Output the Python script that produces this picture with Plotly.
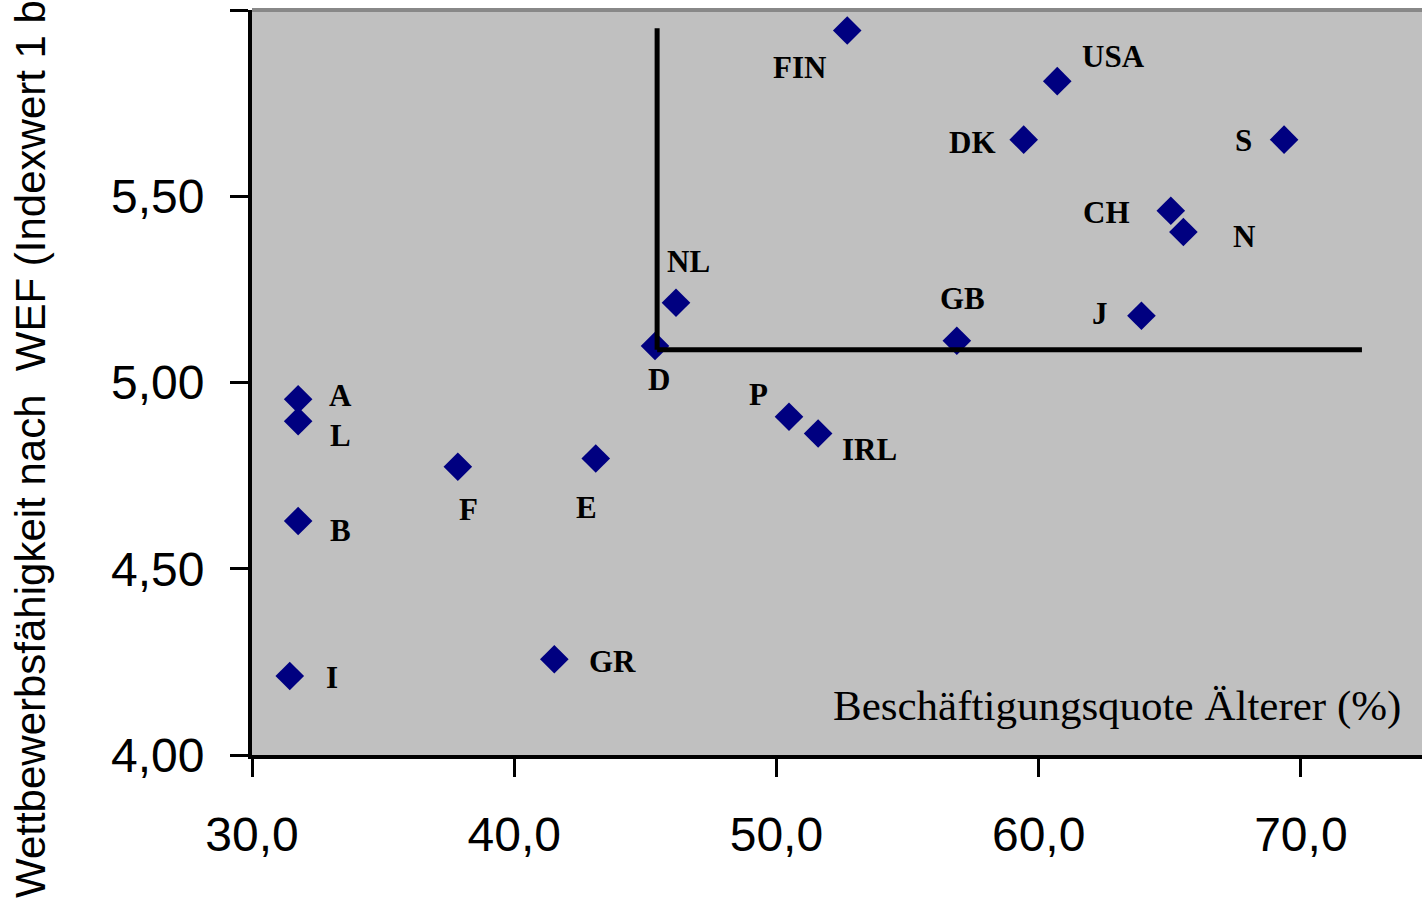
import plotly.graph_objects as go

# ---- data ----
countries = ["FIN", "USA", "DK", "S", "CH", "N", "NL", "D", "GB", "J",
             "A", "L", "B", "I", "F", "E", "P", "IRL", "GR"]
employment_older = [52.70, 60.71, 59.43, 69.36, 65.04, 65.52, 46.17, 45.37, 56.88, 63.92,
                    31.76, 31.76, 31.76, 31.44, 37.85, 43.11, 50.48, 51.59, 41.53]
competitiveness = [5.945, 5.809, 5.652, 5.652, 5.461, 5.404, 5.214, 5.098, 5.112, 5.179,
                   4.955, 4.896, 4.628, 4.212, 4.774, 4.796, 4.908, 4.863, 4.257]

# threshold lines (vertical and horizontal)
vline_x = [45.45, 45.45]
vline_y = [5.951, 5.088]
hline_x = [45.45, 72.33]
hline_y = [5.088, 5.088]

x_tickvals = [30, 40, 50, 60, 70]
x_ticktext = ["30,0", "40,0", "50,0", "60,0", "70,0"]
y_tickvals = [4.0, 4.5, 5.0, 5.5, 6.0]
y_ticktext = ["4,00", "4,50", "5,00", "5,50", ""]

x_title = "Beschäftigungsquote Älterer (%)"
y_title = "Wettbewerbsfähigkeit nach  WEF (Indexwert 1 bis 7)"

# ---- label offsets (style, in pixels: dx right, dy down) ----
label_offsets = {
    "FIN": (-48, 37), "USA": (56, -25), "DK": (-51, 3), "S": (-41, 1),
    "CH": (-64, 2), "N": (61, 4), "NL": (12, -41), "D": (4, 33),
    "GB": (6, -42), "J": (-41, -2), "A": (42, -4), "L": (42, 14),
    "B": (42, 9), "I": (42, 1), "F": (11, 43), "E": (-9, 49),
    "P": (-31, -22), "IRL": (51, 16), "GR": (58, 2),
}

W, H = 1422, 899
ML, MR, MT, MB = 252, 0, 10, 144

fig = go.Figure()

fig.add_trace(go.Scatter(
    x=employment_older, y=competitiveness, mode="markers",
    marker=dict(symbol="diamond", size=22, color="#000080",
                line=dict(width=0)),
    showlegend=False, hoverinfo="skip", cliponaxis=False,
))

fig.add_trace(go.Scatter(
    x=vline_x, y=vline_y, mode="lines",
    line=dict(color="black", width=5), showlegend=False, hoverinfo="skip",
))
fig.add_trace(go.Scatter(
    x=hline_x, y=hline_y, mode="lines",
    line=dict(color="black", width=5), showlegend=False, hoverinfo="skip",
))

annotations = []
for c, xv, yv in zip(countries, employment_older, competitiveness):
    dx, dy = label_offsets[c]
    annotations.append(dict(
        x=xv, y=yv, xref="x", yref="y", text="<b>" + c + "</b>", showarrow=False,
        xshift=dx, yshift=-dy, xanchor="center", yanchor="middle",
        font=dict(family="Liberation Serif", size=31, color="black"),
    ))

plot_w = W - ML - MR
plot_h = H - MT - MB

# x-axis title inside plot area (bottom right)
annotations.append(dict(
    x=(1403 - ML) / plot_w, y=(755 - 706) / plot_h, xref="paper", yref="paper",
    text=x_title, showarrow=False, xanchor="right", yanchor="middle",
    font=dict(family="Liberation Serif", size=43, color="black"),
))
# y-axis title (rotated, partially cropped at the top like the reference)
annotations.append(dict(
    x=(30 - ML) / plot_w, y=(755 - 410) / plot_h, xref="paper", yref="paper",
    text=y_title, showarrow=False, textangle=-90,
    xanchor="center", yanchor="middle",
    font=dict(family="Liberation Sans", size=42, color="black"),
))

fig.update_layout(
    width=W, height=H,
    margin=dict(l=ML, r=MR, t=MT, b=MB, pad=0),
    paper_bgcolor="white",
    plot_bgcolor="#C0C0C0",
    annotations=annotations,
    shapes=[dict(type="line", xref="paper", yref="paper", x0=0, x1=1, y0=1, y1=1,
                 line=dict(color="#888888", width=4))],
)

fig.update_xaxes(
    range=[30, 74.62], tickvals=x_tickvals, ticktext=x_ticktext,
    showgrid=False, zeroline=False,
    showline=True, linecolor="black", linewidth=4,
    ticks="outside", ticklen=18, tickwidth=3, tickcolor="black",
    tickfont=dict(family="Liberation Sans", size=48, color="black"),
    ticklabelstandoff=16,
)
fig.update_yaxes(
    range=[4, 6], tickvals=y_tickvals, ticktext=y_ticktext,
    showgrid=False, zeroline=False,
    showline=True, linecolor="black", linewidth=4,
    ticks="outside", ticklen=18, tickwidth=3, tickcolor="black",
    tickfont=dict(family="Liberation Sans", size=48, color="black"),
    ticklabelstandoff=16,
)

fig.write_html("out.html", config={"displayModeBar": False},
               post_script="document.body.style.margin='0';document.body.style.overflow='hidden';")
